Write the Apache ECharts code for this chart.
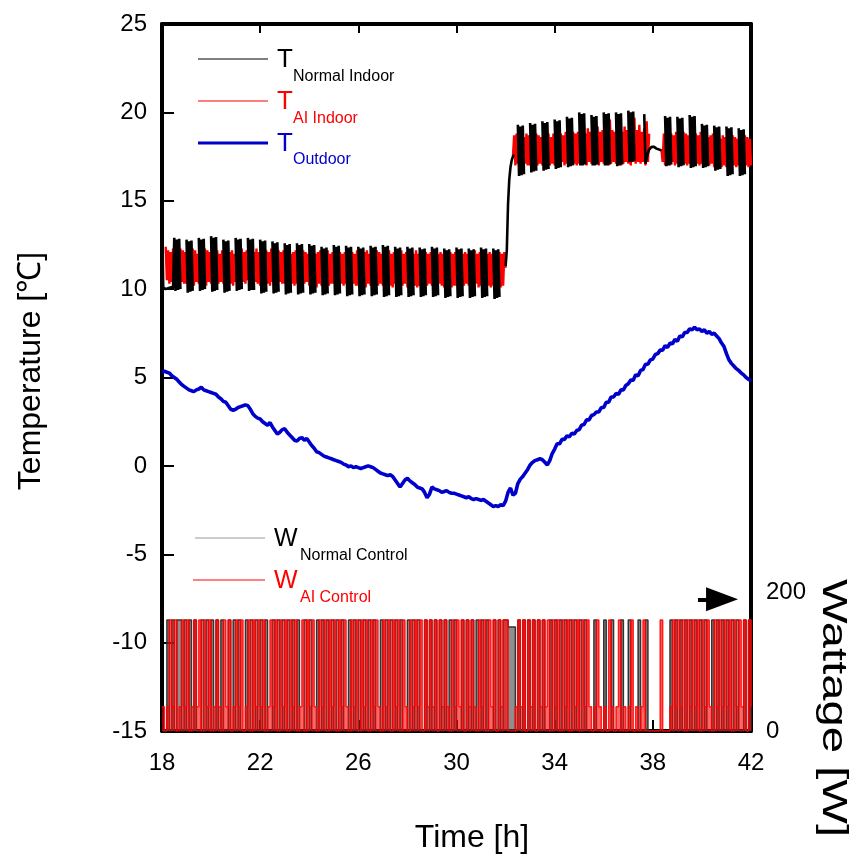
<!DOCTYPE html>
<html><head><meta charset="utf-8">
<script src="https://cdn.jsdelivr.net/npm/echarts@6/dist/echarts.min.js"></script>
<style>html,body{margin:0;padding:0;background:#fff}#c{width:860px;height:866px}</style>
</head><body><div id="c"></div>
<script>
// ---- sampling grids (hours) ----
const timeStart = 18;
const indoorStep = 0.05;   // indoor temperatures sampled every 3 min
const outdoorStep = 0.1;   // outdoor temperature / wattage every 6 min
const wattStep = 0.1;

const xTicks = [18, 22, 26, 30, 34, 38, 42];
const tempTicks = [-15, -10, -5, 0, 5, 10, 15, 20, 25];
const wattTickLabels = [0, 200];

// ---- T Normal Indoor [°C] (one row = 1 h) ----
const tNormalIndoor = [
14.6,10.1,10.0,10.0,10.05,10.05,10.1,10.1,10.1,10.1,12.9,9.9,12.8,9.95,12.85,10.0,null,null,null,null,
12.8,9.8,12.7,9.85,12.75,9.9,null,null,null,null,12.9,9.9,12.8,9.95,12.85,10.0,null,null,null,null,
13.0,9.85,12.9,9.9,12.95,9.95,null,null,null,null,12.8,9.8,12.7,9.85,12.75,9.9,null,null,null,null,
12.9,9.9,12.8,9.95,12.85,10.0,null,null,null,null,12.9,9.9,12.8,9.95,12.85,9.95,null,null,null,null,
12.8,9.75,12.7,9.8,12.75,9.85,null,null,null,null,12.7,9.75,12.6,9.8,12.65,9.85,null,null,null,null,
12.6,9.7,12.5,9.75,12.55,9.8,null,null,null,null,12.6,9.7,12.5,9.75,12.55,9.8,null,null,null,null,
12.55,9.7,12.45,9.75,12.5,9.8,null,null,null,null,12.4,9.65,12.3,9.7,12.35,9.75,null,null,null,null,
12.5,9.65,12.4,9.7,12.45,9.75,null,null,null,null,12.45,9.6,12.35,9.65,12.4,9.7,null,null,null,null,
12.4,9.6,12.3,9.65,12.35,9.7,null,null,null,null,12.45,9.6,12.35,9.65,12.4,9.7,null,null,null,null,
12.5,9.55,12.4,9.6,12.45,9.65,null,null,null,null,12.4,9.55,12.3,9.6,12.35,9.65,null,null,null,null,
12.4,9.55,12.3,9.6,12.35,9.65,null,null,null,null,12.35,9.55,12.25,9.6,12.3,9.65,null,null,null,null,
12.4,9.55,12.3,9.6,12.35,9.65,null,null,null,null,12.3,9.5,12.2,9.55,12.25,9.6,null,null,null,null,
12.35,9.5,12.25,9.55,12.3,9.6,null,null,null,null,12.3,9.5,12.2,9.55,12.25,9.6,null,null,null,null,
12.35,9.5,12.25,9.55,12.3,9.6,null,null,null,null,12.3,9.45,12.2,9.5,12.25,9.55,null,null,null,null,
11.3,12.2,14.8,16.2,16.9,17.3,17.5,17.6,null,null,19.3,16.4,19.2,16.45,19.25,16.5,null,null,null,null,
19.4,16.6,19.3,16.65,19.35,16.7,null,null,null,null,19.5,16.7,19.4,16.75,19.45,16.8,null,null,null,null,
19.6,16.8,19.5,16.85,19.55,16.9,null,null,null,null,19.75,16.9,19.65,16.95,19.7,17.0,null,null,null,null,
20.0,17.0,19.9,17.0,19.95,17.05,null,null,null,null,19.85,17.0,19.75,17.0,19.8,17.05,null,null,null,null,
20.0,17.0,19.9,17.0,19.95,17.05,null,null,null,null,20.0,16.95,19.9,17.0,19.95,17.05,null,null,null,null,
20.1,17.2,20.0,17.2,20.05,17.25,null,null,null,null,null,null,null,19.9,17.1,17.4,17.7,17.9,18.0,18.05,
18.05,18.05,18.0,17.95,17.95,17.9,17.9,17.85,null,null,19.8,16.95,19.7,17.0,19.75,17.05,null,null,null,null,
19.75,16.9,19.65,16.95,19.7,17.0,null,null,null,null,19.85,16.85,19.75,16.9,19.8,16.95,null,null,null,null,
19.35,16.85,19.25,16.9,19.3,16.95,null,null,null,null,19.25,16.7,19.15,16.75,19.2,16.8,null,null,null,null,
19.2,16.4,19.1,16.45,19.15,16.5,null,null,null,null,19.1,16.4,19.0,16.45,19.05,16.5,null,null,null,null,
null
];

// ---- T AI Indoor [°C] ----
const tAIIndoor = [
null,null,null,12.4,10.5,12.2,10.3,12.1,10.4,12.3,10.3,12.2,10.4,12.1,10.2,12.3,10.4,12.2,10.3,12.1,
10.3,12.2,10.4,12.1,10.3,12.3,10.2,12.2,10.4,12.0,10.3,12.2,10.5,12.1,10.3,12.3,10.2,12.2,10.4,12.1,
10.3,12.3,10.4,12.1,10.2,12.2,10.3,12.0,10.4,12.2,10.3,12.1,10.2,12.3,10.4,12.1,10.3,12.2,10.2,12.0,
10.4,12.2,10.3,12.1,10.2,12.3,10.4,12.1,10.3,12.2,10.5,12.0,10.3,12.2,10.2,12.1,10.4,12.3,10.3,12.1,
10.2,12.2,10.4,12.0,10.3,12.2,10.3,12.1,10.2,12.3,10.4,12.1,10.3,12.0,10.2,12.2,10.4,12.1,10.3,12.2,
10.3,12.1,10.2,12.2,10.4,12.0,10.3,12.1,10.2,12.2,10.3,12.0,10.4,12.1,10.2,12.2,10.3,12.1,10.4,12.0,
10.2,12.1,10.3,12.2,10.3,12.0,10.1,12.1,10.3,12.2,10.2,12.0,10.4,12.1,10.3,12.2,10.2,12.0,10.3,12.1,
10.3,12.0,10.2,12.2,10.1,12.1,10.3,12.0,10.2,12.1,10.3,12.2,10.2,12.0,10.1,12.1,10.3,12.0,10.2,12.2,
10.2,12.1,10.3,12.0,10.2,12.1,10.1,12.2,10.3,12.0,10.2,12.1,10.3,12.0,10.1,12.2,10.2,12.1,10.3,12.0,
10.2,12.1,10.1,12.0,10.3,12.2,10.2,12.0,10.1,12.1,10.3,12.0,10.2,12.1,10.1,12.2,10.2,12.0,10.3,12.1,
10.1,12.0,10.2,12.1,10.3,12.0,10.2,12.2,10.1,12.0,10.2,12.1,10.3,12.0,10.1,12.1,10.2,12.0,10.3,12.1,
10.2,12.0,10.1,12.1,10.2,12.0,10.3,12.1,10.2,12.0,10.1,12.2,10.2,12.0,10.3,12.1,10.1,12.0,10.2,12.1,
10.2,12.0,10.3,12.1,10.1,12.0,10.2,12.1,10.3,12.0,10.2,12.1,10.1,12.0,10.2,12.2,10.3,12.0,10.1,12.1,
10.2,12.0,10.1,12.1,10.3,12.0,10.2,12.1,10.1,12.0,10.2,12.1,10.3,12.0,10.2,12.1,10.1,12.0,10.2,12.1,
11.2,null,null,null,null,null,17.5,18.7,17.0,18.8,17.1,18.7,16.9,18.8,17.0,18.6,17.1,18.8,17.0,18.7,
17.0,18.7,17.1,18.6,16.9,18.8,17.0,18.7,17.1,18.6,17.0,18.8,16.9,18.7,17.1,18.8,17.0,18.6,17.1,18.8,
17.0,18.7,17.1,18.9,17.0,18.8,17.2,18.7,17.0,18.9,17.1,18.8,17.0,18.7,17.2,18.9,17.1,18.8,17.0,18.9,
17.1,18.9,17.2,19.0,17.1,18.8,17.0,19.1,17.2,18.9,17.1,19.0,17.2,18.8,17.1,19.2,17.0,18.9,17.2,19.0,
17.1,19.3,17.2,18.9,17.0,19.6,17.1,19.0,17.2,18.9,17.1,19.5,17.2,19.0,17.0,18.9,17.1,19.2,17.2,19.0,
17.1,19.4,17.0,18.9,17.2,19.7,17.1,19.0,17.2,19.3,17.1,18.9,17.2,19.1,17.0,19.5,17.2,18.8,null,null,
null,null,null,null,null,null,null,17.9,17.2,18.8,17.0,18.7,17.1,18.9,17.0,18.8,17.2,18.7,17.0,18.9,
17.1,18.8,17.0,18.7,17.2,18.9,17.1,18.8,17.0,18.7,17.1,18.8,17.2,18.6,17.0,18.8,17.1,18.7,17.0,18.9,
17.1,18.7,17.0,18.8,17.2,18.6,17.0,18.7,17.1,18.8,16.9,18.6,17.1,18.7,17.0,18.5,16.9,18.7,17.0,18.6,
16.9,18.6,17.0,18.5,16.8,18.7,17.0,18.6,16.9,18.5,17.0,18.6,16.8,18.5,16.9,18.7,17.0,18.6,16.9,18.5,
17.0
];

// ---- T Outdoor [°C] (one row = 1 h) ----
const tOutdoor = [
5.3,5.35,5.3,5.25,5.1,5.0,4.9,4.75,4.6,4.5,
4.4,4.3,4.25,4.2,4.3,4.35,4.45,4.3,4.25,4.2,
4.15,4.1,4.05,3.9,3.8,3.65,3.6,3.4,3.2,3.15,
3.2,3.3,3.35,3.4,3.45,3.4,3.2,2.95,2.8,2.7,
2.65,2.5,2.4,2.3,2.45,2.2,2.0,1.8,1.9,2.05,
2.1,1.9,1.75,1.6,1.45,1.4,1.55,1.6,1.45,1.55,
1.35,1.15,1.0,0.8,0.75,0.65,0.55,0.5,0.45,0.4,
0.35,0.3,0.25,0.2,0.1,0.05,-0.05,0.0,-0.1,-0.05,
-0.1,-0.15,-0.1,-0.05,0.0,-0.05,-0.1,-0.2,-0.3,-0.4,
-0.45,-0.5,-0.55,-0.5,-0.6,-0.8,-1.0,-1.2,-1.0,-0.8,
-0.7,-0.85,-0.95,-1.05,-1.2,-1.25,-1.3,-1.5,-1.8,-1.6,
-1.2,-1.3,-1.35,-1.4,-1.5,-1.45,-1.4,-1.5,-1.55,-1.55,
-1.6,-1.65,-1.7,-1.75,-1.8,-1.75,-1.85,-1.9,-1.85,-1.9,
-1.95,-1.9,-2.0,-2.1,-2.2,-2.3,-2.25,-2.3,-2.2,-2.25,
-2.0,-1.5,-1.25,-1.65,-1.55,-1.0,-0.75,-0.6,-0.4,-0.2,
0.05,0.2,0.3,0.35,0.4,0.35,0.2,0.05,0.3,0.7,
0.95,1.25,1.25,1.5,1.5,1.7,1.65,1.85,1.8,2.0,
2.05,2.3,2.35,2.6,2.6,2.85,2.9,3.05,3.05,3.3,
3.3,3.6,3.6,3.9,3.9,4.1,4.05,4.3,4.3,4.55,
4.65,4.85,4.85,5.15,5.1,5.4,5.45,5.75,5.75,6.0,
6.05,6.3,6.35,6.55,6.55,6.8,6.7,6.95,6.9,7.15,
7.05,7.35,7.3,7.55,7.55,7.75,7.7,7.85,7.7,7.75,
7.6,7.7,7.5,7.6,7.45,7.5,7.35,7.2,6.95,6.75,
6.35,6.0,5.8,5.65,5.5,5.4,5.25,5.15,5.0,4.9,
4.8
];

// ---- W Normal Control [W] (one row = 1 h) ----
const wNormalControl = [
0,0,160,0,160,0,160,160,0,160,
0,160,0,160,0,0,160,0,160,0,
160,0,160,0,160,0,0,160,0,160,
0,160,0,0,160,0,160,0,160,0,
160,0,160,0,0,160,0,160,0,160,
0,160,0,160,0,160,0,0,160,0,
160,0,0,160,0,160,0,160,0,160,
0,160,0,160,0,0,160,0,160,0,
160,0,160,0,160,0,160,0,0,160,
0,160,0,160,0,160,0,160,0,0,
160,0,160,0,160,0,0,160,0,160,
0,160,0,160,0,160,0,160,0,160,
0,0,160,0,160,0,160,0,160,0,
160,0,160,0,0,160,0,160,0,160,
160,150,150,150,0,160,0,160,0,160,
0,160,0,160,0,160,0,0,160,0,
160,0,160,0,160,0,160,0,160,0,
160,0,160,0,0,0,160,0,0,0,
160,0,0,160,0,0,0,160,0,0,
160,0,0,0,160,0,0,160,0,0,
0,0,0,0,0,0,0,160,0,160,
0,160,0,160,0,160,0,160,0,160,
0,160,0,0,160,0,160,0,160,0,
160,0,160,0,160,0,0,160,0,160,
0
];

// ---- W AI Control [W] ----
const wAIControl = [
35,0,35,160,35,160,0,35,160,35,
160,0,35,160,35,160,0,160,35,160,
0,35,160,35,0,160,35,160,0,35,
160,35,160,0,35,160,0,160,35,160,
35,160,0,35,160,35,160,0,160,35,
160,0,160,35,160,0,35,160,0,160,
35,160,35,0,160,35,160,0,160,35,
160,0,160,35,160,35,0,160,35,160,
0,160,35,160,0,160,35,160,35,0,
160,35,160,0,160,35,160,0,160,35,
0,160,35,160,35,160,0,160,35,160,
35,160,0,160,35,160,35,0,160,35,
160,35,160,0,160,35,160,35,0,160,
35,160,0,160,35,160,0,160,35,160,
160,0,0,0,35,160,35,160,0,160,
35,160,0,160,35,160,35,160,0,160,
35,160,0,160,35,160,0,160,35,160,
0,160,35,160,35,0,35,160,35,0,
35,0,160,35,0,35,160,0,35,0,
35,160,0,35,0,35,160,0,0,0,
0,0,0,160,0,0,0,35,160,35,
160,35,160,0,160,35,160,35,160,0,
160,35,160,35,0,160,35,160,35,160,
35,160,0,160,35,160,35,160,0,160,
35
];

// arrow annotation pointing at the wattage axis (time h, W)
const arrowFrom = [39.84, 190];
const arrowTo = [40.82, 190];

function toPairs(values, start, step) {
  return values.map((v, i) => [Math.round((start + i * step) * 100) / 100, v === null ? '-' : v]);
}

const FONT = '"Liberation Sans", Arial, Helvetica, sans-serif';
const chart = echarts.init(document.getElementById('c'), null, {renderer: 'canvas'});

const legendItems = [
  {y: 59, color: '#000000', lw: 1.2, main: 'T', sub: 'Normal Indoor', x0: 198, x1: 268, tx: 277, sx: 293, fs: 26, sfs: 16, subDy: 17},
  {y: 101, color: '#ff0000', lw: 1.2, main: 'T', sub: 'AI Indoor', x0: 198, x1: 268, tx: 277, sx: 293, fs: 26, sfs: 16, subDy: 17},
  {y: 143, color: '#0000cc', lw: 3, main: 'T', sub: 'Outdoor', x0: 198, x1: 268, tx: 277, sx: 293, fs: 26, sfs: 16, subDy: 16},
  {y: 538, color: '#999999', textColor: '#000000', lw: 1.2, main: 'W', sub: 'Normal Control', x0: 195, x1: 265, tx: 274, sx: 300, fs: 25, sfs: 16, subDy: 17},
  {y: 580, color: '#ff0000', lw: 1, main: 'W', sub: 'AI Control', x0: 193, x1: 265, tx: 274, sx: 300, fs: 25, sfs: 16, subDy: 17}
];
const graphics = [];
legendItems.forEach(it => {
  graphics.push({type: 'line', silent: true, shape: {x1: it.x0, y1: it.y, x2: it.x1, y2: it.y}, style: {stroke: it.color, lineWidth: it.lw}});
  const tc = it.textColor || it.color;
  graphics.push({type: 'text', silent: true, x: it.tx, y: it.y + 1, style: {text: it.main, fill: tc, fontSize: it.fs, fontFamily: FONT, textAlign: 'left', textVerticalAlign: 'middle', align: 'left', verticalAlign: 'middle'}});
  graphics.push({type: 'text', silent: true, x: it.sx, y: it.y + it.subDy + 1, style: {text: it.sub, fill: tc, fontSize: it.sfs, fontFamily: FONT, textAlign: 'left', textVerticalAlign: 'middle', align: 'left', verticalAlign: 'middle'}});
});
graphics.push({type: 'text', silent: true, x: 31, y: 371, rotation: Math.PI / 2,
  style: {text: 'Temperature [℃]', fill: '#000', fontSize: 32, fontFamily: FONT, textAlign: 'center', textVerticalAlign: 'middle', align: 'center', verticalAlign: 'middle'}});
graphics.push({type: 'text', silent: true, x: 472, y: 838,
  style: {text: 'Time [h]', fill: '#000', fontSize: 32, fontFamily: FONT, textAlign: 'center', textVerticalAlign: 'middle', align: 'center', verticalAlign: 'middle'}});
graphics.push({type: 'text', silent: true, x: 833, y: 708, rotation: -Math.PI / 2, scaleX: 1.35,
  style: {text: 'Wattage [W]', fill: '#000', fontSize: 35, fontFamily: FONT, textAlign: 'center', textVerticalAlign: 'middle', align: 'center', verticalAlign: 'middle'}});

const lineBase = {type: 'line', showSymbol: false, symbol: 'none', silent: true, connectNulls: false, animation: false};

chart.setOption({
  animation: false,
  backgroundColor: '#ffffff',
  grid: {left: 162, right: 109, top: 24, bottom: 135, containLabel: false},
  xAxis: [
    {type: 'value', position: 'bottom', min: xTicks[0], max: xTicks[xTicks.length - 1], interval: 4,
     axisLine: {show: true, onZero: false, lineStyle: {color: '#000', width: 4}},
     axisTick: {show: true, inside: true, length: 11, lineStyle: {color: '#000', width: 2}},
     axisLabel: {show: true, color: '#000', fontSize: 24, fontFamily: FONT, margin: 20,
       formatter: v => xTicks.includes(v) ? String(v) : ''},
     splitLine: {show: false}},
    {type: 'value', position: 'top', min: xTicks[0], max: xTicks[xTicks.length - 1], interval: 4,
     axisLine: {show: true, onZero: false, lineStyle: {color: '#000', width: 4}},
     axisTick: {show: true, inside: true, length: 9, lineStyle: {color: '#000', width: 2}},
     axisLabel: {show: false}, splitLine: {show: false}}
  ],
  yAxis: [
    {type: 'value', position: 'left', min: tempTicks[0], max: tempTicks[tempTicks.length - 1], interval: 5,
     axisLine: {show: true, onZero: false, lineStyle: {color: '#000', width: 4}},
     axisTick: {show: true, inside: true, length: 12, lineStyle: {color: '#000', width: 2}},
     axisLabel: {show: true, color: '#000', fontSize: 24, fontFamily: FONT, margin: 15},
     splitLine: {show: false}},
    {type: 'value', position: 'right', min: 0, max: 1020, interval: 200,
     axisLine: {show: true, onZero: false, lineStyle: {color: '#000', width: 4}},
     axisTick: {show: false},
     axisLabel: {show: true, color: '#000', fontSize: 24, fontFamily: FONT, margin: 15,
       formatter: v => wattTickLabels.includes(v) ? String(v) : ''},
     splitLine: {show: false}}
  ],
  series: [
    Object.assign({}, lineBase, {name: 'W Normal Control', yAxisIndex: 1, step: 'end', z: 2,
      data: toPairs(wNormalControl, timeStart, wattStep),
      lineStyle: {color: '#333333', width: 1.5}, itemStyle: {color: '#333333'},
      areaStyle: {color: '#444444', opacity: 0.6},
      markLine: {silent: true, animation: false, symbol: ['none', 'triangle'], symbolSize: 28,
        label: {show: false}, lineStyle: {color: '#000', width: 4, type: 'solid', opacity: 1},
        emphasis: {disabled: true},
        data: [[{coord: arrowFrom, symbol: 'none'}, {coord: arrowTo, symbol: 'triangle', symbolSize: [24, 32]}]]}}),
    Object.assign({}, lineBase, {name: 'W AI Control', yAxisIndex: 1, step: 'end', z: 3,
      data: toPairs(wAIControl, timeStart, wattStep),
      lineStyle: {color: '#ff0000', width: 1.5, opacity: 0.85}, itemStyle: {color: '#ff0000'},
      areaStyle: {color: '#ff0000', opacity: 0.6}}),
    Object.assign({}, lineBase, {name: 'T Outdoor', z: 4,
      data: toPairs(tOutdoor, timeStart, outdoorStep),
      lineStyle: {color: '#0000cc', width: 3.6}, itemStyle: {color: '#0000cc'}}),
    Object.assign({}, lineBase, {name: 'T AI Indoor', z: 5,
      data: toPairs(tAIIndoor, timeStart, indoorStep),
      lineStyle: {color: '#ff0000', width: 2.4}, itemStyle: {color: '#ff0000'}}),
    Object.assign({}, lineBase, {name: 'T Normal Indoor', z: 6,
      data: toPairs(tNormalIndoor, timeStart, indoorStep),
      lineStyle: {color: '#000000', width: 2.6}, itemStyle: {color: '#000000'}})
  ],
  graphic: graphics
});
</script>
</body></html>
